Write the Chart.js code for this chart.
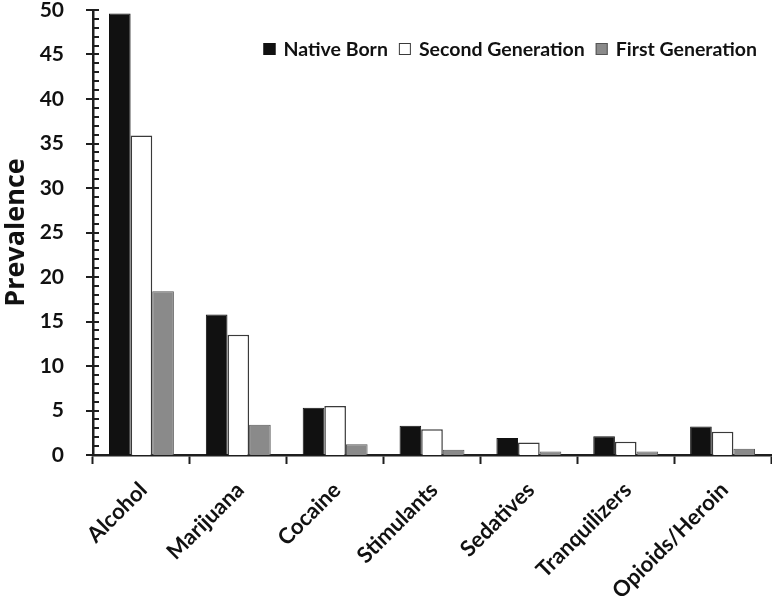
<!DOCTYPE html>
<html>
<head>
<meta charset="utf-8">
<script src="https://cdn.jsdelivr.net/npm/chart.js@4"></script>
<style>
  html, body { margin: 0; padding: 0; background: #fff; }
  #wrap { width: 772px; height: 600px; position: relative; }
</style>
</head>
<body>
<div id="wrap"><canvas id="c"></canvas></div>
<script>
const categories = ["Alcohol", "Marijuana", "Cocaine", "Stimulants", "Sedatives", "Tranquilizers", "Opioids/Heroin"];
const nativeBorn = [49.6, 15.8, 5.3, 3.3, 1.9, 2.1, 3.2];
const secondGeneration = [35.9, 13.5, 5.5, 2.9, 1.4, 1.5, 2.6];
const firstGeneration = [18.4, 3.4, 1.2, 0.6, 0.4, 0.4, 0.7];
const seriesNames = ["Native Born", "Second Generation", "First Generation"];
const yTickValues = [0, 5, 10, 15, 20, 25, 30, 35, 40, 45, 50];

const FONT = "Lato, 'Open Sans', sans-serif";
const AXIS = "#1e1e1e";

const tickPlugin = {
  id: "yMinorTicks",
  afterDraw(chart) {
    const y = chart.scales.y;
    const ctx = chart.ctx;
    const left = chart.chartArea.left;
    ctx.save();
    ctx.strokeStyle = AXIS;
    ctx.lineWidth = 2;
    for (let v = y.min; v <= y.max; v += 1) {
      const py = Math.round(y.getPixelForValue(v));
      const major = yTickValues.includes(v);
      ctx.beginPath();
      ctx.moveTo(major ? left - 7 : left, py);
      ctx.lineTo(left + 6, py);
      ctx.stroke();
    }
    ctx.restore();
  }
};

const legendPlugin = {
  id: "customLegend",
  afterDraw(chart) {
    const ctx = chart.ctx;
    ctx.save();
    ctx.font = "bold 19.5px " + FONT;
    ctx.textBaseline = "middle";
    ctx.textAlign = "left";
    const box = 12, gapText = 8, gapItem = 11;
    const items = chart.data.datasets.map(ds => ({
      label: ds.label, fill: ds.backgroundColor, stroke: ds.borderColor,
      w: ctx.measureText(ds.label).width
    }));
    let total = 0;
    items.forEach((it, i) => { total += box + gapText + it.w + (i < items.length - 1 ? gapItem : 0); });
    let x = 757 - total;
    const cy = 49;
    items.forEach(it => {
      ctx.fillStyle = it.fill;
      ctx.fillRect(x, cy - box / 2, box, box);
      ctx.strokeStyle = it.stroke;
      ctx.lineWidth = 1;
      ctx.strokeRect(x + 0.5, cy - box / 2 + 0.5, box - 1, box - 1);
      x += box + gapText;
      ctx.fillStyle = "#111";
      ctx.fillText(it.label, x, cy + 1);
      x += it.w + gapItem;
    });
    ctx.restore();
  }
};

new Chart(document.getElementById("c"), {
  type: "bar",
  data: {
    labels: categories,
    datasets: [
      { label: seriesNames[0], data: nativeBorn, backgroundColor: "#111111", borderColor: "#111111", borderWidth: 1 },
      { label: seriesNames[1], data: secondGeneration, backgroundColor: "#ffffff", borderColor: "#3a3a3a", borderWidth: 1.5 },
      { label: seriesNames[2], data: firstGeneration, backgroundColor: "#8a8a8a", borderColor: "#555555", borderWidth: 1 }
    ]
  },
  options: {
    responsive: true,
    maintainAspectRatio: false,
    animation: false,
    layout: { padding: { top: 0, right: 1, left: 0, bottom: 0 } },
    datasets: { bar: { categoryPercentage: 0.67, barPercentage: 1.0 } },
    plugins: {
      legend: { display: false },
      tooltip: { enabled: false }
    },
    scales: {
      x: {
        grid: { display: true, offset: true, drawOnChartArea: false, drawTicks: true, tickLength: 9, tickColor: AXIS, tickWidth: 2 },
        border: { display: true, color: AXIS, width: 2.5 },
        ticks: { color: "#111", font: { family: FONT, size: 22, weight: "bold" }, minRotation: 45, maxRotation: 45, padding: 13, labelOffset: 2, autoSkip: false },
        afterFit(scale) { scale.height = 145; scale.paddingLeft = 0; scale.paddingRight = 0; }
      },
      y: {
        min: 0, max: 50,
        grid: { display: false },
        border: { display: true, color: AXIS, width: 2.5 },
        ticks: { stepSize: 5, color: "#111", font: { family: FONT, size: 21, weight: "bold" }, padding: 21 },
        title: { display: true, text: "Prevalence", color: "#111", font: { family: "'Open Sans', Lato, sans-serif", size: 27, weight: "bold" }, padding: { top: 0, bottom: 0 } },
        afterFit(scale) { scale.width = 93; scale.paddingTop = 10; scale.paddingBottom = 0; }
      }
    }
  },
  plugins: [tickPlugin, legendPlugin]
});
</script>
</body>
</html>
